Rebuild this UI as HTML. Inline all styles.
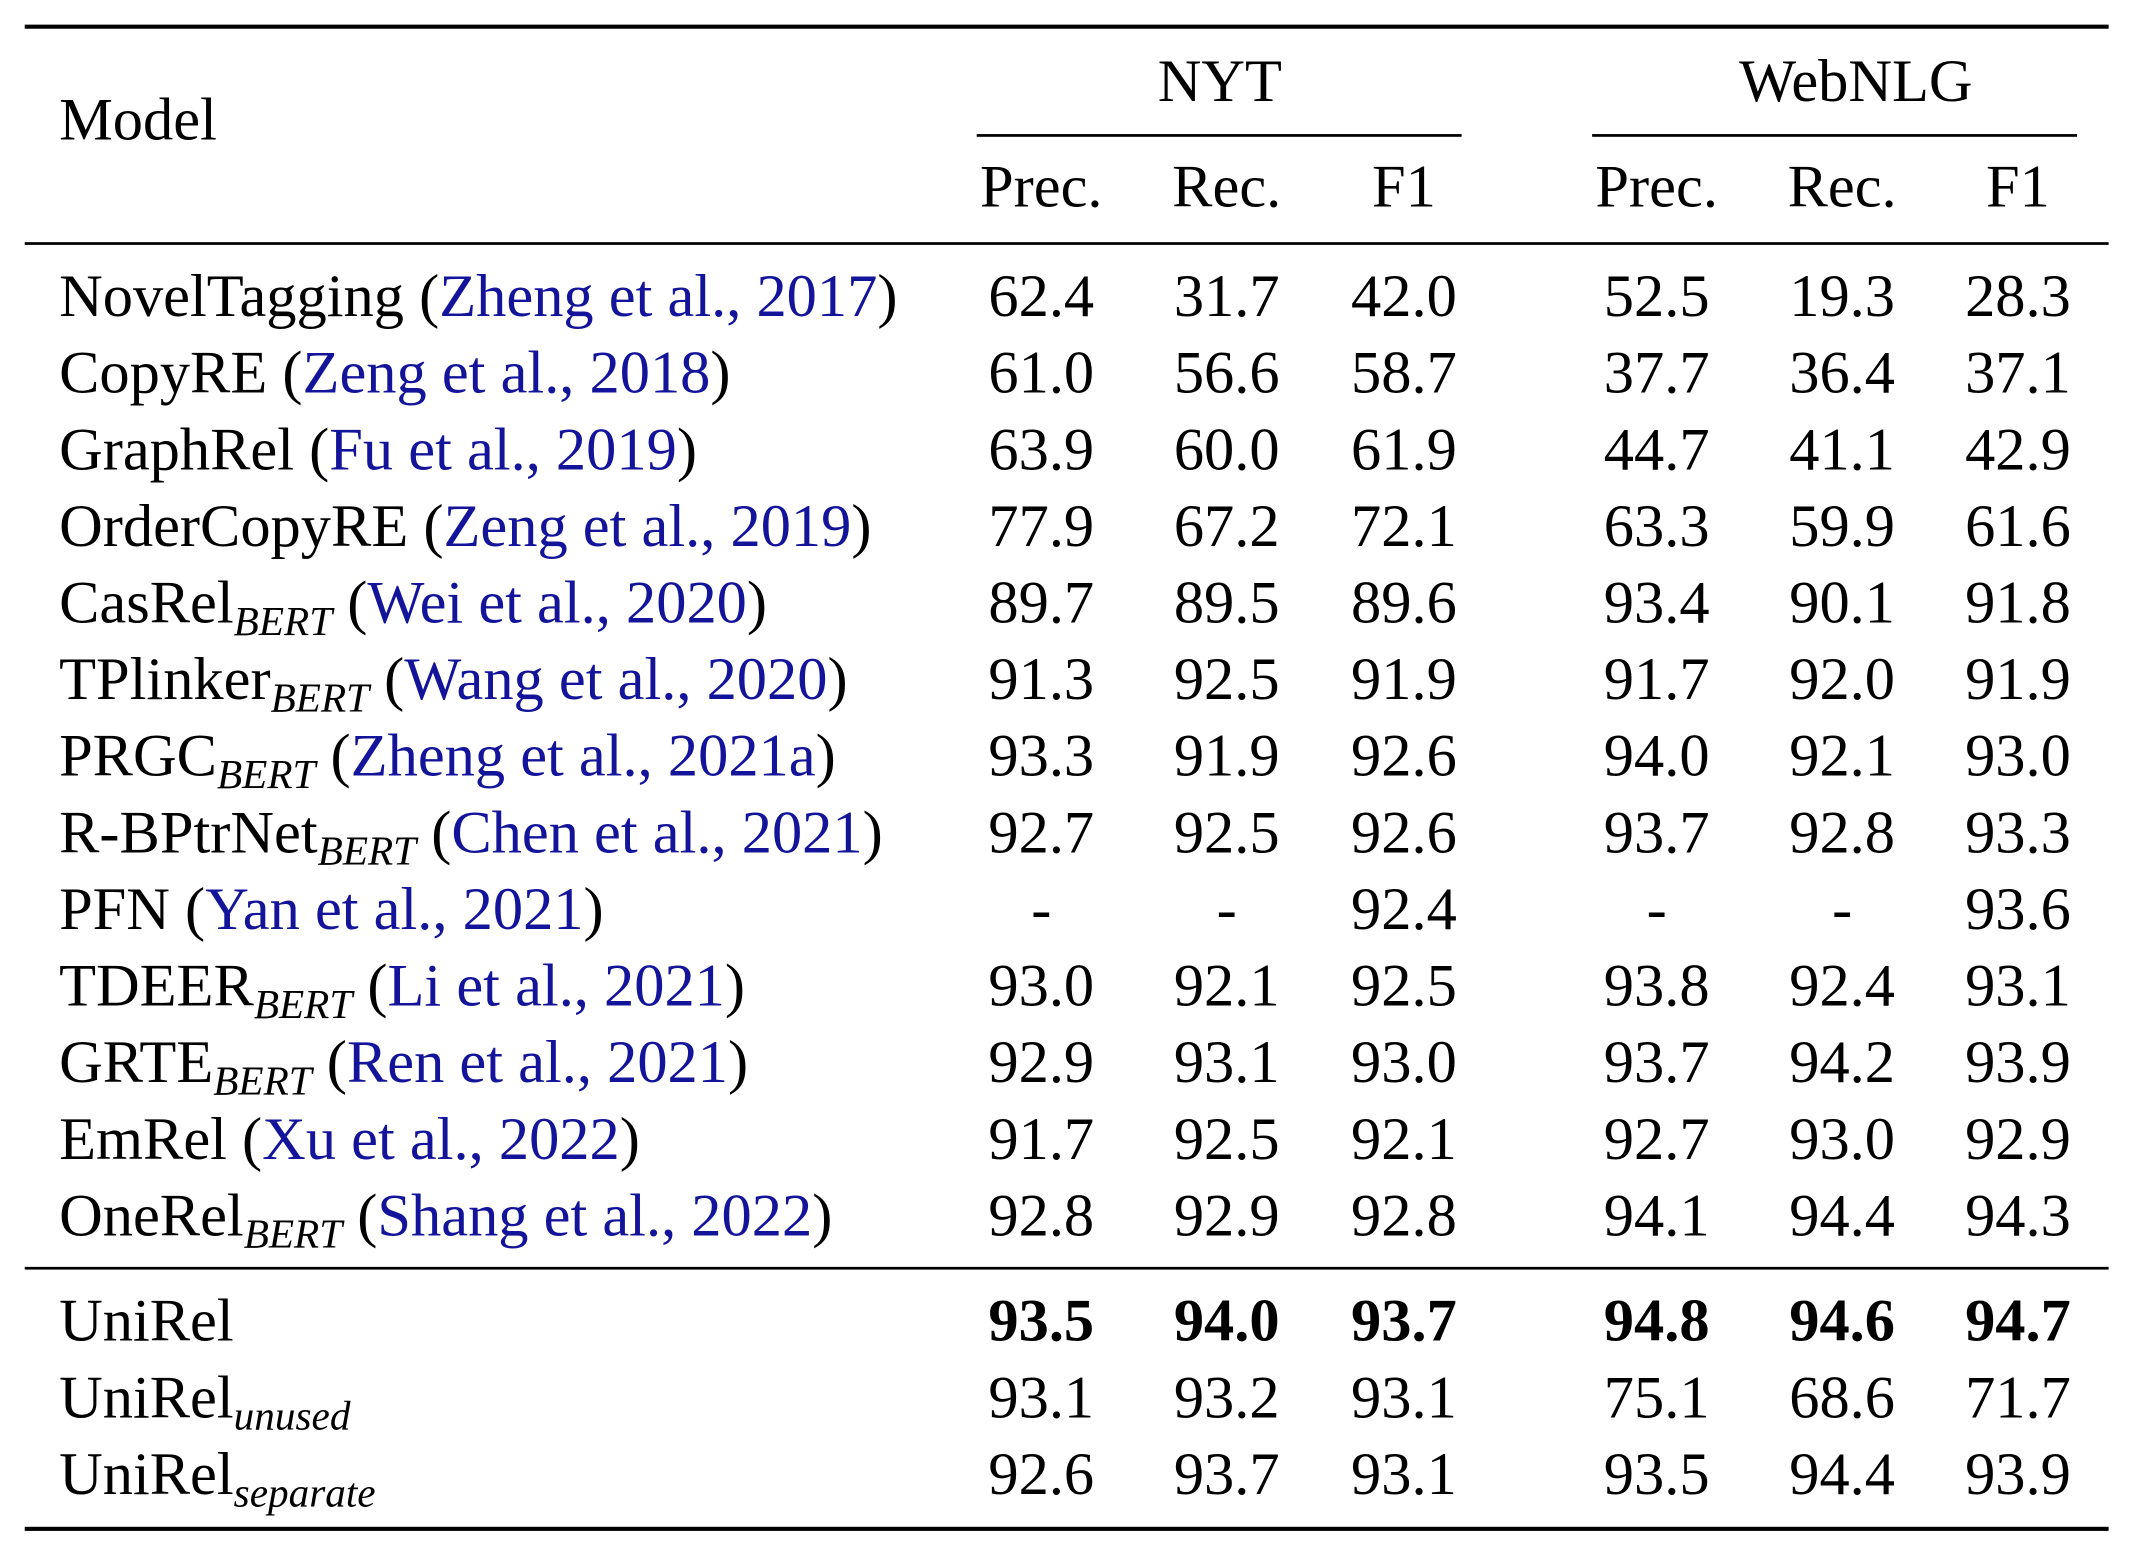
<!DOCTYPE html>
<html><head><meta charset="utf-8"><style>
html,body{margin:0;padding:0;background:#fff;}
#wrap{width:2132px;height:1546px;overflow:hidden;position:relative;}
#t{position:absolute;left:0;top:0;width:1552px;height:1130px;transform-origin:0 0;transform:scale(1.3737,1.3681);font-family:"Liberation Serif",serif;font-size:44px;color:#000;}
.r{position:absolute;background:#000;}
.c{position:absolute;height:50px;line-height:50px;white-space:nowrap;}
.n{width:140px;text-align:center;}
.b{color:#14149a;}
sub{font-style:italic;font-size:30px;vertical-align:-9px;line-height:0;}
.bold{font-weight:bold;}
</style></head><body>
<div id="wrap"><div id="t"></div></div>
<script>
const models=[
 ["NovelTagging","", "Zheng et al., 2017"],
 ["CopyRE","", "Zeng et al., 2018"],
 ["GraphRel","", "Fu et al., 2019"],
 ["OrderCopyRE","", "Zeng et al., 2019"],
 ["CasRel","BERT","Wei et al., 2020"],
 ["TPlinker","BERT","Wang et al., 2020"],
 ["PRGC","BERT","Zheng et al., 2021a"],
 ["R-BPtrNet","BERT","Chen et al., 2021"],
 ["PFN","", "Yan et al., 2021"],
 ["TDEER","BERT","Li et al., 2021"],
 ["GRTE","BERT","Ren et al., 2021"],
 ["EmRel","", "Xu et al., 2022"],
 ["OneRel","BERT","Shang et al., 2022"],
 ["UniRel","",""],
 ["UniRel","unused",""],
 ["UniRel","separate",""]
];
const values=[
 ["62.4","31.7","42.0","52.5","19.3","28.3"],
 ["61.0","56.6","58.7","37.7","36.4","37.1"],
 ["63.9","60.0","61.9","44.7","41.1","42.9"],
 ["77.9","67.2","72.1","63.3","59.9","61.6"],
 ["89.7","89.5","89.6","93.4","90.1","91.8"],
 ["91.3","92.5","91.9","91.7","92.0","91.9"],
 ["93.3","91.9","92.6","94.0","92.1","93.0"],
 ["92.7","92.5","92.6","93.7","92.8","93.3"],
 ["-","-","92.4","-","-","93.6"],
 ["93.0","92.1","92.5","93.8","92.4","93.1"],
 ["92.9","93.1","93.0","93.7","94.2","93.9"],
 ["91.7","92.5","92.1","92.7","93.0","92.9"],
 ["92.8","92.9","92.8","94.1","94.4","94.3"],
 ["93.5","94.0","93.7","94.8","94.6","94.7"],
 ["93.1","93.2","93.1","75.1","68.6","71.7"],
 ["92.6","93.7","93.1","93.5","94.4","93.9"]
];
const colHeads=["Prec.","Rec.","F1","Prec.","Rec.","F1"];
const colX=[758,893,1022,1206,1341,1469];
const rowY=[217,273,329,385,441,497,553,609,665,721,777,833,889,966,1022,1078];
const t=document.getElementById('t');
function rule(x,y,w,h,name){const d=document.createElement('div');d.className='r';


d.style.cssText=`left:${x}px;top:${y}px;width:${w}px;height:${h}px`;t.appendChild(d);}
function cell(html,cx,cy,cls,name){const d=document.createElement('div');d.className='c '+cls;


d.innerHTML=html;d.style.top=(cy-25)+'px';
if(cls.includes('n'))d.style.left=(cx-70)+'px';else d.style.left=cx+'px';t.appendChild(d);}
rule(18,18,1517,3,'top-rule');
rule(711,98,353,1.6,'nyt-cmidrule');
rule(1159,98,353,1.6,'webnlg-cmidrule');
rule(18,177,1517,2.4,'header-rule');
rule(18,926,1517,1.8,'mid-rule');
rule(18,1116,1517,3,'bottom-rule');
cell('Model',43,88,'','model-header');
cell('NYT',888,60,'n','nyt-header');
cell('WebNLG',1336,60,'n','webnlg-header');
colHeads.forEach((h,i)=>cell(h,colX[i],137,'n','column-header-'+i));
models.forEach((m,i)=>{
 let h=m[0]+(m[1]?'<sub>'+m[1]+'</sub>':'');
 if(m[2])h+=' (<span class="b">'+m[2]+'</span>)';
 cell(h,43,rowY[i],'','model-name-'+i);
 values[i].forEach((v,j)=>cell(v,colX[j],rowY[i],'n'+(i===13?' bold':''),'value-'+i+'-'+j));
});
</script>
</body></html>
